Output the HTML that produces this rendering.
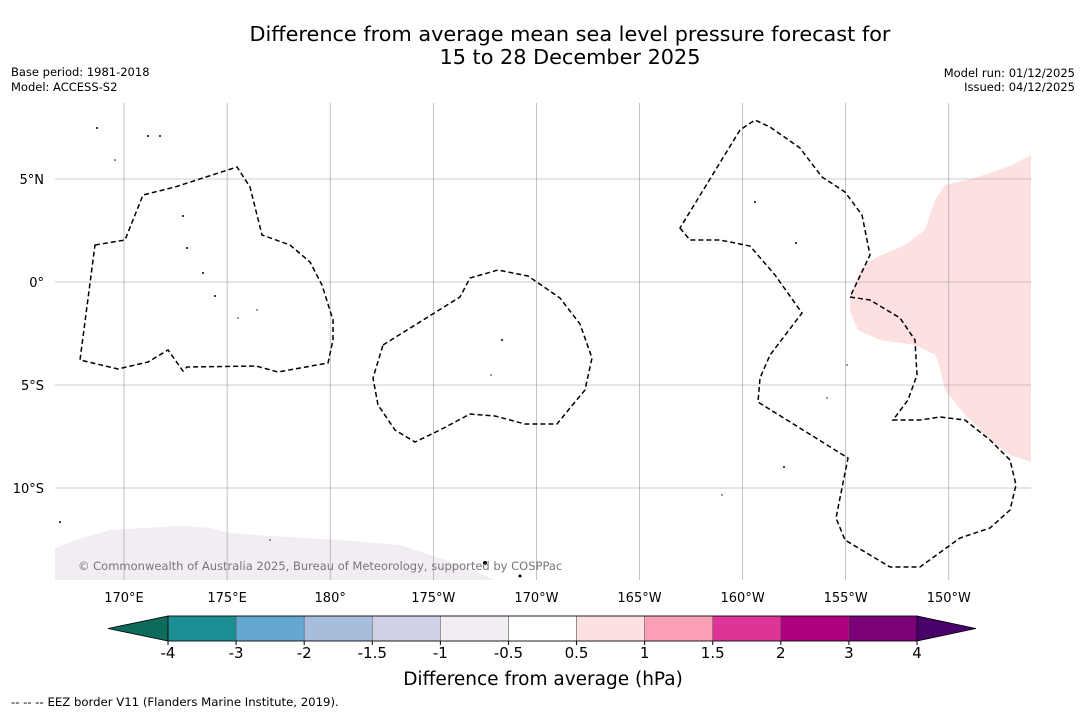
<!DOCTYPE html>
<html><head><meta charset="utf-8"><style>
body{margin:0;background:#fff;font-family:"Liberation Sans","DejaVu Sans",sans-serif;}
</style></head><body>
<svg id="s" width="1085" height="713" xmlns="http://www.w3.org/2000/svg" font-family="DejaVu Sans, Liberation Sans, sans-serif">
<rect width="1085" height="713" fill="#fff"/>
<text x="570" y="41" font-size="20.8" text-anchor="middle">Difference from average mean sea level pressure forecast for</text>
<text x="570" y="64" font-size="20.8" text-anchor="middle">15 to 28 December 2025</text>
<text x="11" y="76" font-size="11.5">Base period: 1981-2018</text>
<text x="11" y="91" font-size="11.5">Model: ACCESS-S2</text>
<text x="1075" y="77" font-size="11.5" text-anchor="end">Model run: 01/12/2025</text>
<text x="1075" y="91" font-size="11.5" text-anchor="end">Issued: 04/12/2025</text>
<g id="map">
<polygon fill="#fde0e0" points="850,297 860,270 875,258 905,245 925,230 935,200 945,185 975,178 1010,166 1031,155 1031,462 1010,455 990,440 965,415 945,390 938,360 935,355 915,345 880,340 858,330 850,310"/>
<polygon fill="#f2ecf3" points="55,548 75,540 110,530 180,526 210,528 230,533 270,536 340,540 400,545 430,555 460,565 495,580 55,580"/>
<g id="grid"></g>
<g fill="none" stroke="#000" stroke-width="1.5" stroke-dasharray="5,3">
<polygon points="95,245 125,240 143,195 175,187 237,167 250,187 262,235 290,245 310,262 322,285 333,320 333,340 328,363 278,372 256,366 187,367 183,371 168,350 148,362 118,369 80,360"/>
<polygon points="383,345 460,297 470,278 498,270 528,276 560,298 580,324 592,358 585,390 570,408 557,424 525,424 495,416 470,414 440,430 415,442 395,430 378,405 373,378"/>
<polygon points="680,228 690,240 720,240 750,246 775,275 802,313 770,355 760,378 758,402 848,458 836,518 845,540 890,567 920,567 960,538 990,528 1010,510 1016,485 1010,460 990,440 965,420 940,417 920,420 893,420 908,400 917,375 915,340 900,318 870,300 850,297 870,255 862,215 845,192 822,177 800,148 770,127 755,120 740,130"/>
</g>
<g fill="#000">
<circle cx="148" cy="136" r="1"/><circle cx="160" cy="136" r="1"/><circle cx="97" cy="128" r="1"/><circle cx="115" cy="160" r="0.8"/><circle cx="183" cy="216" r="1"/><circle cx="187" cy="248" r="1"/><circle cx="203" cy="273" r="1"/><circle cx="215" cy="296" r="1"/><circle cx="238" cy="318" r="0.7"/><circle cx="257" cy="310" r="0.7"/><circle cx="502" cy="340" r="1"/><circle cx="491" cy="375" r="0.7"/><circle cx="755" cy="202" r="1"/><circle cx="796" cy="243" r="1"/><circle cx="784" cy="467" r="1"/><circle cx="722" cy="495" r="0.7"/><circle cx="60" cy="522" r="1"/><circle cx="485" cy="563" r="2"/><circle cx="520" cy="576" r="1.5"/><circle cx="270" cy="540" r="0.7"/><circle cx="847" cy="365" r="0.7"/><circle cx="827" cy="398" r="0.7"/>
</g>
<text x="78" y="570" font-size="11.5" fill="#777">© Commonwealth of Australia 2025, Bureau of Meteorology, supported by COSPPac</text>
</g>
<g id="cbar"></g>
<text x="543" y="685" font-size="18.5" text-anchor="middle">Difference from average (hPa)</text>
<text x="11" y="706" font-size="11.7">-- -- -- EEZ border V11 (Flanders Marine Institute, 2019).</text>
</svg>
<script>
const lonTicks=[170,175,180,-175,-170,-165,-160,-155,-150];
const lonLabels=["170°E","175°E","180°","175°W","170°W","165°W","160°W","155°W","150°W"];
const latTicks=[5,0,-5,-10];
const latLabels=["5°N","0°","5°S","10°S"];
const cbBounds=["-4","-3","-2","-1.5","-1","-0.5","0.5","1","1.5","2","3","4"];
const cbColors=["#1b8f93","#64a8cf","#a7bddc","#d0d1e6","#f2ecf3","#ffffff","#fde0e0","#fa9fb5","#dd3497","#ae017e","#7a0177"];
const cbExtend=["#0d6b5c","#49006a"];
const NS="http://www.w3.org/2000/svg";
const xL=l=>{let d=l<0?l+360:l;return 124+(d-170)*103.1/5;};
const yL=l=>282-l*103/5;
const grid=document.getElementById('grid'),s=document.getElementById('s');
function mk(t,a,p){const e=document.createElementNS(NS,t);for(const k in a)e.setAttribute(k,a[k]);p.appendChild(e);return e;}
lonTicks.forEach((l,i)=>{
 const x=xL(l);
 const ln=mk('line',{x1:x,x2:x,y1:103,y2:580,stroke:'#999','stroke-width':0.6},grid);
 
 
 const t=mk('text',{x:x,y:602,'font-size':13,'text-anchor':'middle'},s);t.textContent=lonLabels[i];
 
 
});
latTicks.forEach((l,i)=>{
 const y=yL(l);
 const ln=mk('line',{x1:55,x2:1031,y1:y,y2:y,stroke:'#999','stroke-width':0.6},grid);
 
 
 const t=mk('text',{x:44,y:y+5,'font-size':13,'text-anchor':'end'},s);t.textContent=latLabels[i];
 
 
});
const cb=document.getElementById('cbar');
const x0=168,x1=917,w=(x1-x0)/cbColors.length,y0=616,h=25;
const lt=mk('polygon',{points:`${x0},${y0} ${x0},${y0+h} 108,${y0+h/2}`,fill:cbExtend[0],stroke:'#000','stroke-width':0.8},cb);


const rt=mk('polygon',{points:`${x1},${y0} ${x1},${y0+h} 976,${y0+h/2}`,fill:cbExtend[1],stroke:'#000','stroke-width':0.8},cb);


cbColors.forEach((c,i)=>{
 const r=mk('rect',{x:x0+i*w,y:y0,width:w,height:h,fill:c,stroke:'#555','stroke-width':0.5},cb);
 
 
});
mk('rect',{x:x0,y:y0,width:x1-x0,height:h,fill:'none',stroke:'#000','stroke-width':0.8},cb);
cbBounds.forEach((b,i)=>{
 const x=x0+i*w;
 mk('line',{x1:x,x2:x,y1:y0+h,y2:y0+h+4,stroke:'#000'},cb);
 const t=mk('text',{x:x,y:658,'font-size':15,'text-anchor':'middle'},cb);t.textContent=b;
 
 
});
</script>
</body></html>
